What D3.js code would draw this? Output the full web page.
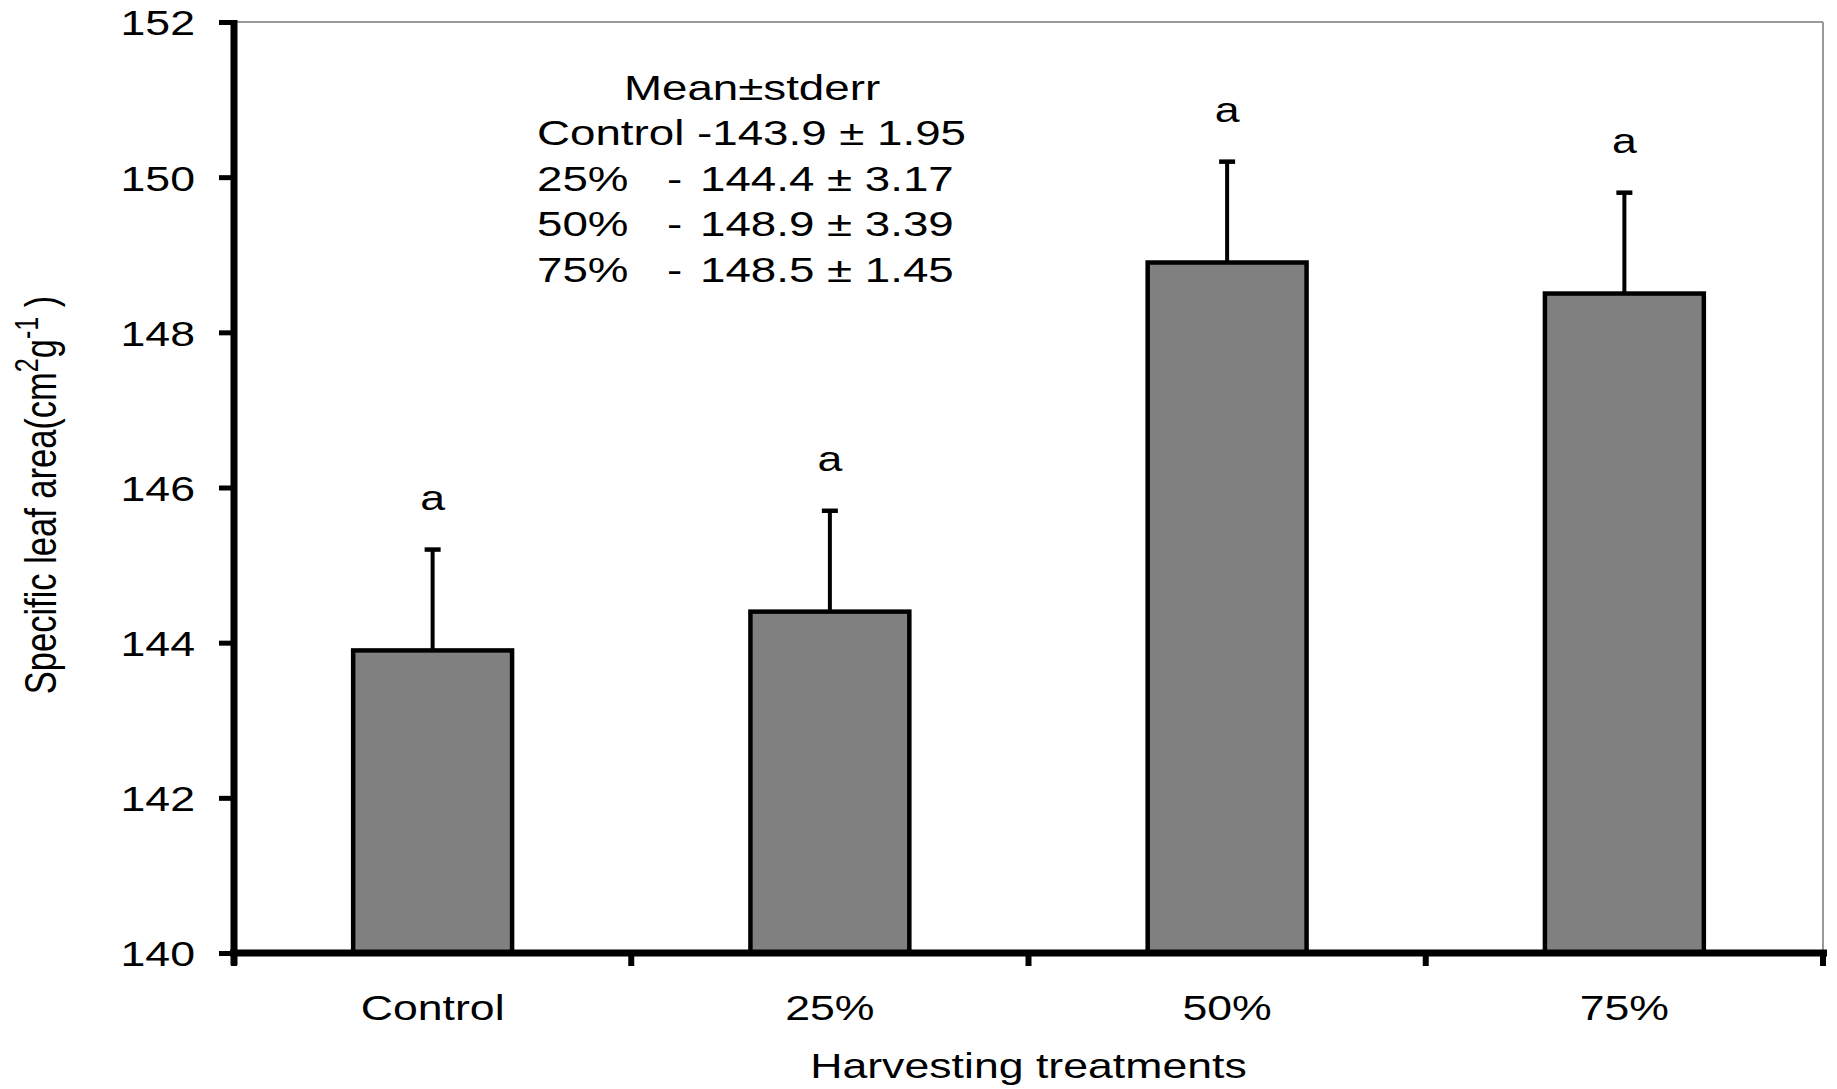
<!DOCTYPE html>
<html>
<head>
<meta charset="utf-8">
<script src="https://cdn.jsdelivr.net/npm/d3@7"></script>
<style>
  html, body { margin: 0; padding: 0; background: #fff; }
  svg { display: block; }
  text { font-family: "Liberation Sans", Arial, sans-serif; fill: #000; }
</style>
</head>
<body>
<svg id="chart" width="1837" height="1089"></svg>
<script>
// ---- data ----
const categories = ["Control", "25%", "50%", "75%"];
const means = [143.9, 144.4, 148.9, 148.5];
const errorTops = [145.2, 145.7, 150.2, 149.8];   // upper end of the drawn error bars
const letters = ["a", "a", "a", "a"];
const statMeans = ["143.9", "144.4", "148.9", "148.5"];
const statErrs = ["1.95", "3.17", "3.39", "1.45"];
const yTicks = [140, 142, 144, 146, 148, 150, 152];
const statsTitle = "Mean\u00b1stderr";
const xTitle = "Harvesting treatments";

(function () {
// ---- layout ----
const K = 1.24;       // horizontal stretch of glyphs in the reference
const KS = 1.27;      // stretch used for the stats block
const FS = 36;
const pL = 234, pR = 1823, pT = 22, pB = 953;

const svg = d3.select("#chart");
const x = d3.scaleBand().domain(categories).range([pL, pR]).padding(0);
const y = d3.scaleLinear().domain([140, 152]).range([pB, pT]);
const bw = x.bandwidth();

function stext(parent, tx, ty, str, anchor, k) {
  return parent.append("text")
    .attr("transform", `translate(${tx},${ty}) scale(${k || K},1)`)
    .attr("text-anchor", anchor || "start")
    .attr("font-size", FS)
    .text(str);
}

// frame (thin grey top/right)
svg.append("line").attr("x1", pL).attr("x2", pR).attr("y1", pT).attr("y2", pT)
  .attr("stroke", "#999").attr("stroke-width", 2);
svg.append("line").attr("x1", pR).attr("x2", pR).attr("y1", pT).attr("y2", pB)
  .attr("stroke", "#999").attr("stroke-width", 2);

// bars
const g = svg.append("g");
g.selectAll("rect.bar").data(categories).join("rect")
  .attr("class", "bar")
  .attr("x", c => x(c) + bw * 0.3)
  .attr("width", bw * 0.4)
  .attr("y", (c, i) => y(means[i]))
  .attr("height", (c, i) => y(140) - y(means[i]))
  .attr("fill", "#808080")
  .attr("stroke", "#000")
  .attr("stroke-width", 4.5);

// error bars
g.selectAll("line.err").data(categories).join("line")
  .attr("class", "err")
  .attr("x1", c => x(c) + bw / 2).attr("x2", c => x(c) + bw / 2)
  .attr("y1", (c, i) => y(means[i])).attr("y2", (c, i) => y(errorTops[i]))
  .attr("stroke", "#000").attr("stroke-width", 4);
g.selectAll("line.cap").data(categories).join("line")
  .attr("class", "cap")
  .attr("x1", c => x(c) + bw / 2 - 8).attr("x2", c => x(c) + bw / 2 + 8)
  .attr("y1", (c, i) => y(errorTops[i])).attr("y2", (c, i) => y(errorTops[i]))
  .attr("stroke", "#000").attr("stroke-width", 4.5);

// significance letters
categories.forEach((c, i) => {
  stext(svg, x(c) + bw / 2, y(errorTops[i]) - 40, letters[i], "middle");
});

// y axis
const yAxis = d3.axisLeft(y).tickValues(yTicks).tickSize(15).tickPadding(24).tickFormat(d3.format("d"));
const ya = svg.append("g").attr("transform", `translate(${pL},0)`).call(yAxis);
ya.select(".domain").remove();
ya.selectAll(".tick line").attr("stroke", "#000").attr("stroke-width", 5);
ya.selectAll(".tick text").each(function () {
  const t = d3.select(this);
  const tx = +t.attr("x");
  t.attr("x", 0).attr("dy", "0.36em")
    .attr("transform", `translate(${tx},0) scale(${K},1)`)
    .attr("font-size", FS).attr("font-family", null);
});
svg.append("line").attr("x1", pL).attr("x2", pL).attr("y1", pT - 2).attr("y2", pB + 12)
  .attr("stroke", "#000").attr("stroke-width", 7);

// x axis
const xa = svg.append("g").attr("transform", `translate(0,${pB})`)
  .call(d3.axisBottom(x).tickSize(0).tickPadding(0));
xa.select(".domain").remove();
xa.selectAll(".tick text").each(function () {
  d3.select(this).attr("y", 0).attr("dy", null)
    .attr("transform", `translate(0,67) scale(${K},1)`)
    .attr("font-size", FS).attr("font-family", null);
});
svg.append("line").attr("x1", pL - 4).attr("x2", pR + 4).attr("y1", pB).attr("y2", pB)
  .attr("stroke", "#000").attr("stroke-width", 7);
const bounds = categories.map(c => x(c)).concat([x.range()[1]]);
svg.selectAll("line.xtick").data(bounds).join("line")
  .attr("class", "xtick")
  .attr("x1", d => d).attr("x2", d => d)
  .attr("y1", pB).attr("y2", pB + 13)
  .attr("stroke", "#000").attr("stroke-width", 6);

// axis titles
stext(svg, (pL + pR) / 2, 1078, xTitle, "middle");
const yl = svg.append("text")
  .attr("transform", `translate(56,495) scale(1.3,1) rotate(-90)`)
  .attr("text-anchor", "middle").attr("font-size", 34.5);
yl.append("tspan").text("Specific leaf area(cm");
yl.append("tspan").attr("font-size", 25).attr("dy", -14).text("2");
yl.append("tspan").attr("dy", 14).text("g");
yl.append("tspan").attr("font-size", 25).attr("dy", -14).text("-1");
yl.append("tspan").attr("dy", 14).text(" )");

// stats annotation
stext(svg, 752, 100, statsTitle, "middle", KS);
categories.forEach((c, i) => {
  const by = 145 + i * 45.5;
  if (i === 0) {
    stext(svg, 537, by, `${c} -${statMeans[i]} \u00b1 ${statErrs[i]}`, "start", KS);
  } else {
    stext(svg, 537, by, c, "start", KS);
    stext(svg, 667, by, "-", "start", KS);
    stext(svg, 700, by, `${statMeans[i]} \u00b1 ${statErrs[i]}`, "start", KS);
  }
});
})();
</script>
</body>
</html>
